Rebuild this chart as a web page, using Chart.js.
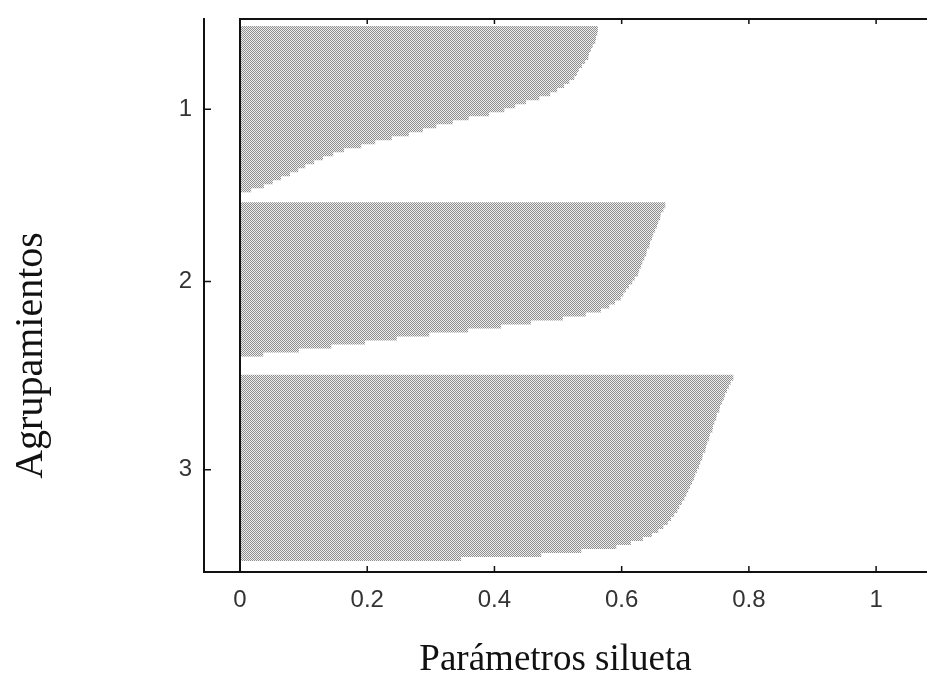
<!DOCTYPE html>
<html>
<head>
<meta charset="utf-8">
<script src="https://cdn.jsdelivr.net/npm/chart.js@4.4.0/dist/chart.umd.min.js"></script>
<style>
  html, body { margin: 0; padding: 0; background: #fff; }
  canvas { display: block; }
</style>
</head>
<body>
<canvas id="silChart" width="927" height="676"></canvas>
<script>
// silhouette values per cluster, sorted as in the plot (top to bottom)
const clusterNames = ['1', '2', '3'];
const cluster1 = [0.561, 0.560, 0.558, 0.557, 0.553, 0.550, 0.547, 0.546, 0.541, 0.536,
  0.531, 0.528, 0.524, 0.516, 0.508, 0.497, 0.486, 0.469, 0.448, 0.431,
  0.414, 0.390, 0.358, 0.333, 0.307, 0.286, 0.264, 0.237, 0.211, 0.189,
  0.162, 0.145, 0.129, 0.115, 0.101, 0.090, 0.077, 0.063, 0.050, 0.036, 0.016];
const cluster2 = [0.667, 0.664, 0.660, 0.659, 0.656, 0.654, 0.651, 0.648, 0.646, 0.643,
  0.642, 0.638, 0.637, 0.634, 0.631, 0.629, 0.626, 0.624, 0.619, 0.615,
  0.610, 0.605, 0.601, 0.597, 0.588, 0.579, 0.566, 0.542, 0.506, 0.456,
  0.409, 0.357, 0.296, 0.245, 0.195, 0.142, 0.091, 0.035];
const cluster3 = [0.774, 0.770, 0.767, 0.764, 0.761, 0.759, 0.756, 0.753, 0.752, 0.748,
  0.747, 0.744, 0.742, 0.741, 0.737, 0.736, 0.733, 0.731, 0.730, 0.726,
  0.725, 0.722, 0.720, 0.717, 0.714, 0.712, 0.709, 0.706, 0.703, 0.700,
  0.697, 0.693, 0.689, 0.686, 0.681, 0.676, 0.671, 0.664, 0.656, 0.646,
  0.632, 0.613, 0.590, 0.535, 0.472, 0.346];
const xTickValues = [0, 0.2, 0.4, 0.6, 0.8, 1];
const xTickLabels = ['0', '0.2', '0.4', '0.6', '0.8', '1'];
const xTitle = 'Parámetros silueta';
const yTitle = 'Agrupamientos';

// empty rows: above cluster 1, between the clusters, below cluster 3
const gapRows = [2, 3, 5, 3];

const rows = [];
const tickRows = [];
[cluster1, cluster2, cluster3].forEach((c, i) => {
  for (let k = 0; k < gapRows[i]; k++) rows.push(null);
  tickRows.push(rows.length + Math.floor(c.length / 2));
  c.forEach(v => rows.push(v));
});
for (let k = 0; k < gapRows[3]; k++) rows.push(null);

// stippled grey like the scanned print
const tile = document.createElement('canvas');
tile.width = 2; tile.height = 2;
const tctx = tile.getContext('2d');
tctx.fillStyle = '#eeeeee';
tctx.fillRect(0, 0, 2, 2);
tctx.fillStyle = '#8e8e8e';
tctx.fillRect(0, 0, 1, 1);
tctx.fillRect(1, 1, 1, 1);
const ctx = document.getElementById('silChart').getContext('2d');
const stipple = ctx.createPattern(tile, 'repeat');

const serif = "'Liberation Serif', 'Times New Roman', serif";
const sans = "'Liberation Sans', Arial, sans-serif";

function noPadding(s) {
  s.paddingTop = 0;
  s.paddingBottom = 0;
  s.paddingLeft = 0;
  s.paddingRight = 0;
}

const framePlugin = {
  id: 'frame',
  afterDatasetsDraw(chart) {
    const { ctx, chartArea: a, scales: { x, y } } = chart;
    const x0 = x.getPixelForValue(0);
    ctx.save();
    ctx.strokeStyle = '#111';
    ctx.lineWidth = 2;
    ctx.beginPath();
    ctx.moveTo(x0, a.bottom);
    ctx.lineTo(x0, a.top);
    ctx.lineTo(a.right, a.top);
    ctx.stroke();

    ctx.lineWidth = 1.5;
    ctx.beginPath();
    xTickValues.forEach(v => {
      if (v === 0) return;
      const px = x.getPixelForValue(v);
      ctx.moveTo(px, a.bottom); ctx.lineTo(px, a.bottom - 6);
      ctx.moveTo(px, a.top); ctx.lineTo(px, a.top + 5);
    });
    tickRows.forEach(r => {
      const py = y.getPixelForValue(r);
      ctx.moveTo(a.left, py); ctx.lineTo(a.left + 7, py);
    });
    ctx.stroke();
    ctx.restore();
  },
  afterDraw(chart) {
    const { ctx, chartArea: a } = chart;
    ctx.save();
    ctx.fillStyle = '#111';
    ctx.textAlign = 'center';
    ctx.textBaseline = 'alphabetic';
    ctx.font = '37px ' + serif;
    ctx.fillText(xTitle, (a.left + a.right) / 2 - 10, chart.height - 6);
    ctx.translate(42, (a.top + a.bottom) / 2 + 60);
    ctx.rotate(-Math.PI / 2);
    ctx.font = '40px ' + serif;
    ctx.fillText(yTitle, 0, 0);
    ctx.restore();
  }
};

new Chart(ctx, {
  type: 'bar',
  data: {
    labels: rows.map((_, i) => i),
    datasets: [{
      data: rows,
      backgroundColor: stipple,
      borderWidth: 0,
      inflateAmount: 1,
      barPercentage: 1,
      categoryPercentage: 1
    }]
  },
  options: {
    indexAxis: 'y',
    responsive: false,
    animation: false,
    layout: { padding: { top: 19, right: 0, bottom: 0, left: 0 } },
    plugins: { legend: { display: false }, tooltip: { enabled: false } },
    scales: {
      x: {
        type: 'linear',
        min: -0.0566,
        max: 1.08,
        afterBuildTicks: s => { s.ticks = xTickValues.map(v => ({ value: v })); },
        afterFit: s => { s.height = 104; noPadding(s); },
        grid: { drawOnChartArea: false, drawTicks: false },
        border: { color: '#111', width: 2 },
        ticks: {
          padding: 14,
          color: '#333',
          font: { family: sans, size: 24 },
          callback: v => xTickLabels[xTickValues.indexOf(v)]
        }
      },
      y: {
        type: 'category',
        afterFit: s => { s.width = 204; noPadding(s); },
        grid: { drawOnChartArea: false, drawTicks: false },
        border: { color: '#111', width: 2 },
        ticks: {
          autoSkip: false,
          padding: 12,
          color: '#333',
          font: { family: sans, size: 24 },
          callback: (v, i) => {
            const k = tickRows.indexOf(i);
            return k < 0 ? '' : clusterNames[k];
          }
        }
      }
    }
  },
  plugins: [framePlugin]
});
</script>
</body>
</html>
